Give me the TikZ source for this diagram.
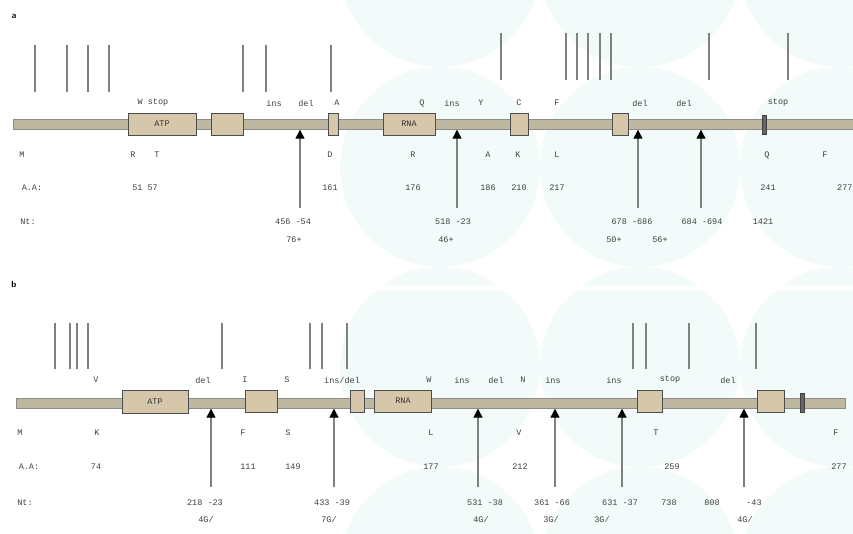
\documentclass[tikz,border=0pt]{standalone}
\usepackage{fontspec}
\setmonofont{Liberation Mono}
\usetikzlibrary{arrows.meta}
\definecolor{bgc}{RGB}{242,250,250}
\definecolor{barc}{RGB}{190,184,160}
\definecolor{boxc}{RGB}{214,198,170}

\begin{document}
\begin{tikzpicture}[
  x=1pt, y=-1pt,
  font=\ttfamily\fontsize{8.5}{9}\selectfont,
  lbl/.style={inner sep=0pt, text=black!75},
  pan/.style={inner sep=0pt, font=\sffamily\bfseries\fontsize{9}{10}\selectfont},
  bar/.style={draw=black!45, fill=barc, inner sep=0pt, minimum height=10pt},
  dom/.style={draw=black!70, fill=boxc, inner sep=0pt, minimum height=22pt, text=black!80},
  stopbox/.style={draw=black!75, fill=black!60, inner sep=0pt, minimum width=4pt, minimum height=19pt},
  tick/.style={draw=black!50, line width=1.3pt},
  thk/.style={draw=black!50, line width=2.6pt},
  mut/.style={-{Triangle[length=9pt,width=9pt,color=black]}, draw=black!50, line width=1.3pt}
]
\useasboundingbox[fill=white] (0,0) rectangle (853,534);

% faint background discs
\fill[bgc] (440,-33) circle (100) (640,-33) circle (100) (840,-33) circle (100);
\fill[bgc] (440,167) circle (100) (640,167) circle (100) (840,167) circle (100);
\fill[bgc] (440,367) circle (100) (640,367) circle (100) (840,367) circle (100);
\fill[bgc] (440,567) circle (100) (640,567) circle (100) (840,567) circle (100);
\fill[white] (0,286) rectangle (853,290);

% ---------------- panel a ----------------
\node[pan] (pa) at (14,16) {a};

\draw[tick] (35,45) -- (35,92) (67,45) -- (67,92) (88,45) -- (88,92);
\draw[thk] (109,45) -- (109,92);
\draw[tick] (243,45) -- (243,92) (266,45) -- (266,92) (331,45) -- (331,92);
\draw[tick] (501,33) -- (501,80) (566,33) -- (566,80) (577,33) -- (577,80) (611,33) -- (611,80);
\draw[thk] (588,33) -- (588,80) (600,33) -- (600,80);
\draw[tick] (709,33) -- (709,80) (788,33) -- (788,80);

\node[lbl] (ua1) at (153,103) {W stop};
\node[lbl] (ua2) at (274,103) {ins};
\node[lbl] (ua3) at (306,103) {del};
\node[lbl] (ua4) at (337,103) {A};
\node[lbl] (ua5) at (422,103) {Q};
\node[lbl] (ua6) at (452,103) {ins};
\node[lbl] (ua7) at (481,103) {Y};
\node[lbl] (ua8) at (519,103) {C};
\node[lbl] (ua9) at (557,103) {F};
\node[lbl] (ua10) at (640,103) {del};
\node[lbl] (ua11) at (684,103) {del};
\node[lbl] (ua12) at (778,103) {stop};

\node[bar, minimum width=840pt] (bara) at (433,124.5) {};
\node[dom, minimum width=68pt] (atpa) at (162,124) {ATP};
\node[dom, minimum width=32pt] (da2) at (227,124) {};
\node[dom, minimum width=10pt] (da3) at (333,124) {};
\node[dom, minimum width=52pt] (rnaa) at (409,124) {RNA};
\node[dom, minimum width=18pt] (da5) at (519,124) {};
\node[dom, minimum width=16pt] (da6) at (620,124) {};
\node[stopbox] (sa) at (764,124.5) {};

\coordinate (ma1) at (300,208);
\coordinate (ma2) at (457,208);
\coordinate (ma3) at (638,208);
\coordinate (ma4) at (701,208);
\draw[mut] (ma1) -- (ma1 |- bara.south);
\draw[mut] (ma2) -- (ma2 |- bara.south);
\draw[mut] (ma3) -- (ma3 |- bara.south);
\draw[mut] (ma4) -- (ma4 |- bara.south);

\node[lbl] (ra0) at (22,155) {M};
\node[lbl] (ra1) at (133,155) {R};
\node[lbl] (ra2) at (157,155) {T};
\node[lbl] (ra3) at (330,155) {D};
\node[lbl] (ra4) at (413,155) {R};
\node[lbl] (ra5) at (488,155) {A};
\node[lbl] (ra6) at (518,155) {K};
\node[lbl] (ra7) at (557,155) {L};
\node[lbl] (ra8) at (767,155) {Q};
\node[lbl] (ra9) at (825,155) {F};

\node[lbl] (aa0) at (32,188) {A.A:};
\node[lbl] (aa1) at (145,188) {51 57};
\node[lbl] (aa2) at (330,188) {161};
\node[lbl] (aa3) at (413,188) {176};
\node[lbl] (aa4) at (488,188) {186};
\node[lbl] (aa5) at (519,188) {210};
\node[lbl] (aa6) at (557,188) {217};
\node[lbl] (aa7) at (768,188) {241};
\node[lbl, anchor=west] (aa8) at (837,188) {277};

\node[lbl] (na0) at (28,222) {Nt:};
\node[lbl] (na1) at (293,222) {456 -54};
\node[lbl] (na2) at (453,222) {518 -23};
\node[lbl] (na3) at (632,222) {678 -686};
\node[lbl] (na4) at (702,222) {684 -694};
\node[lbl] (na5) at (763,222) {1421};
\node[lbl] (nb1) at (294,240) {76+};
\node[lbl] (nb2) at (446,240) {46+};
\node[lbl] (nb3) at (614,240) {50+};
\node[lbl] (nb4) at (660,240) {56+};

% ---------------- panel b ----------------
\node[pan] (pb) at (14,284) {b};

\draw[tick] (55,323) -- (55,369) (70,323) -- (70,369) (88,323) -- (88,369);
\draw[thk] (77,323) -- (77,369);
\draw[tick] (222,323) -- (222,369) (310,323) -- (310,369) (322,323) -- (322,369) (347,323) -- (347,369);
\draw[tick] (633,323) -- (633,369) (646,323) -- (646,369) (689,323) -- (689,369) (756,323) -- (756,369);

\node[lbl] (ub1) at (96,380) {V};
\node[lbl] (ub2) at (203,380) {del};
\node[lbl] (ub3) at (245,380) {I};
\node[lbl] (ub4) at (287,380) {S};
\node[lbl] (ub5) at (342,380) {ins/del};
\node[lbl] (ub6) at (429,380) {W};
\node[lbl] (ub7) at (462,380) {ins};
\node[lbl] (ub8) at (496,380) {del};
\node[lbl] (ub9) at (523,380) {N};
\node[lbl] (ub10) at (553,380) {ins};
\node[lbl] (ub11) at (614,380) {ins};
\node[lbl] (ub12) at (670,380) {stop};
\node[lbl] (ub13) at (728,380) {del};

\node[bar, minimum width=829pt] (barb) at (430.5,403.5) {};
\node[dom, minimum width=66pt, minimum height=23pt] (atpb) at (155,401.5) {ATP};
\node[dom, minimum width=32pt] (db2) at (261,401) {};
\node[dom, minimum width=14pt] (db3) at (357,401) {};
\node[dom, minimum width=57pt] (rnab) at (403,401) {RNA};
\node[dom, minimum width=25pt] (db5) at (650,401) {};
\node[dom, minimum width=27pt] (db6) at (771,401) {};
\node[stopbox] (sb) at (802,403) {};

\coordinate (mb1) at (211,487);
\coordinate (mb2) at (334,487);
\coordinate (mb3) at (478,487);
\coordinate (mb4) at (555,487);
\coordinate (mb5) at (622,487);
\coordinate (mb6) at (744,487);
\draw[mut] (mb1) -- (mb1 |- barb.south);
\draw[mut] (mb2) -- (mb2 |- barb.south);
\draw[mut] (mb3) -- (mb3 |- barb.south);
\draw[mut] (mb4) -- (mb4 |- barb.south);
\draw[mut] (mb5) -- (mb5 |- barb.south);
\draw[mut] (mb6) -- (mb6 |- barb.south);

\node[lbl] (rb0) at (20,433) {M};
\node[lbl] (rb1) at (97,433) {K};
\node[lbl] (rb2) at (243,433) {F};
\node[lbl] (rb3) at (288,433) {S};
\node[lbl] (rb4) at (431,433) {L};
\node[lbl] (rb5) at (519,433) {V};
\node[lbl] (rb6) at (656,433) {T};
\node[lbl] (rb7) at (836,433) {F};

\node[lbl] (ab0) at (29,467) {A.A:};
\node[lbl] (ab1) at (96,467) {74};
\node[lbl] (ab2) at (248,467) {111};
\node[lbl] (ab3) at (293,467) {149};
\node[lbl] (ab4) at (431,467) {177};
\node[lbl] (ab5) at (520,467) {212};
\node[lbl] (ab6) at (672,467) {259};
\node[lbl] (ab7) at (839,467) {277};

\node[lbl] (nc0) at (25,503) {Nt:};
\node[lbl] (nc1) at (205,503) {218 -23};
\node[lbl] (nc2) at (332,503) {433 -39};
\node[lbl] (nc3) at (485,503) {531 -38};
\node[lbl] (nc4) at (552,503) {361 -66};
\node[lbl] (nc5) at (620,503) {631 -37};
\node[lbl] (nc6) at (669,503) {738};
\node[lbl] (nc7) at (712,503) {808};
\node[lbl] (nc8) at (754,503) {-43};
\node[lbl] (nd1) at (206,519) {4G/};
\node[lbl] (nd2) at (329,519) {7G/};
\node[lbl] (nd3) at (481,519) {4G/};
\node[lbl] (nd4) at (551,519) {3G/};
\node[lbl] (nd5) at (602,519) {3G/};
\node[lbl] (nd6) at (745,519) {4G/};
\end{tikzpicture}
\end{document}
